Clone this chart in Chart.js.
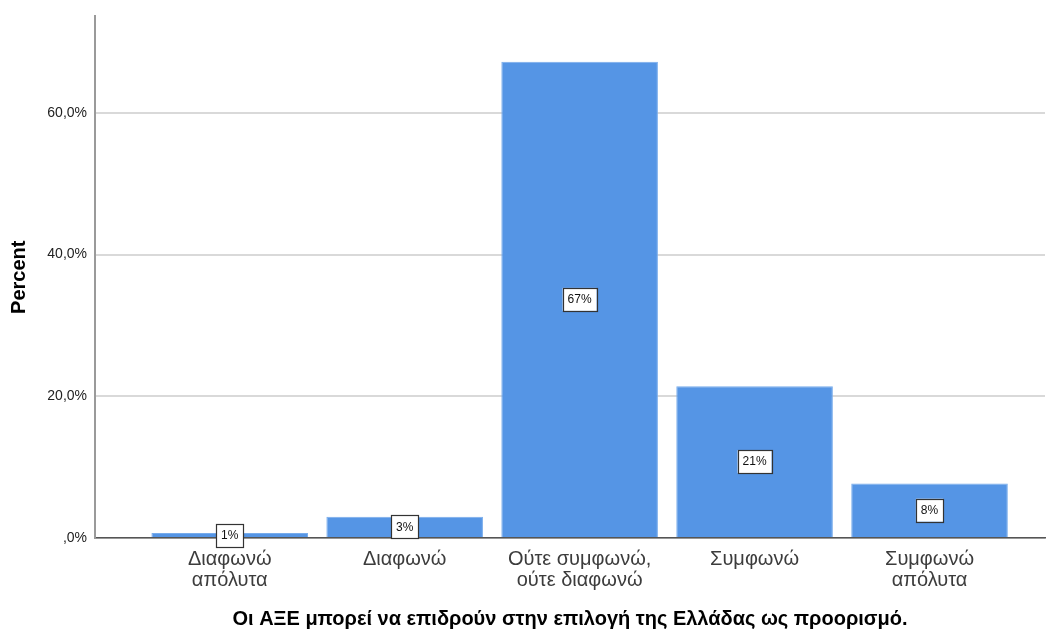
<!DOCTYPE html>
<html>
<head>
<meta charset="utf-8">
<script src="https://cdn.jsdelivr.net/npm/chart.js@4/dist/chart.umd.min.js"></script>
<style>
  body { margin: 0; background: #fff; }
</style>
</head>
<body>
<canvas id="myChart" width="1052" height="631"></canvas>
<script>
const categories = [
  ['Διαφωνώ', 'απόλυτα'],
  'Διαφωνώ',
  ['Ούτε συμφωνώ,', 'ούτε διαφωνώ'],
  'Συμφωνώ',
  ['Συμφωνώ', 'απόλυτα']
]
const percentValues = [0.7, 3.0, 67.2, 21.4, 7.7]
const yTicks = [0, 20, 40, 60]

const ctx = document.getElementById('myChart')

// white boxes with the rounded percent in the middle of each bar
const barLabels = {
  id: 'barLabels',
  afterDatasetsDraw(chart) {
    const c = chart.ctx
    const meta = chart.getDatasetMeta(0)
    c.save()
    c.font = '12px Arial, "Liberation Sans", sans-serif'
    c.textAlign = 'center'
    c.textBaseline = 'middle'
    meta.data.forEach((bar, i) => {
      const text = Math.round(percentValues[i]) + '%'
      const w = c.measureText(text).width + 10
      const h = 23
      const x = bar.x
      const y = (bar.y + bar.base) / 2
      c.fillStyle = '#ffffff'
      c.fillRect(x - w / 2, y - h / 2, w, h)
      c.strokeStyle = '#333333'
      c.lineWidth = 1.2
      c.strokeRect(Math.round(x - w / 2) + 0.5, Math.round(y - h / 2) + 0.5, Math.round(w), h)
      c.fillStyle = '#111111'
      c.fillText(text, x, y + 0.5)
    })
    c.restore()
  }
}

new Chart(ctx, {
  type: 'bar',
  data: {
    datasets: [{
      data: percentValues.map((v, i) => ({ x: i, y: v })),
      backgroundColor: '#5595e5',
      borderColor: '#78acec',
      borderWidth: 1,
      barPercentage: 0.895,
      categoryPercentage: 1
    }]
  },
  options: {
    responsive: false,
    devicePixelRatio: 1,
    animation: false,
    layout: { padding: { top: 15, right: 7, left: 0, bottom: 0 } },
    plugins: {
      legend: { display: false },
      tooltip: { enabled: false }
    },
    scales: {
      x: {
        type: 'linear',
        offset: false,
        min: -0.77,
        max: 4.66,
        afterBuildTicks: (scale) => { scale.ticks = categories.map((c, i) => ({ value: i })) },
        afterFit: (scale) => { scale.height = 93 },
        grid: { display: false, drawTicks: false },
        border: { display: true, color: '#555555', width: 1.5 },
        ticks: {
          autoSkip: false,
          maxRotation: 0,
          padding: 11,
          color: '#3c3c3c',
          font: { family: 'Arial, "Liberation Sans", sans-serif', size: 20, lineHeight: 1.05 },
          callback: (v) => categories[v]
        },
        title: {
          display: true,
          text: 'Οι ΑΞΕ μπορεί να επιδρούν στην επιλογή της Ελλάδας ως προορισμό.',
          color: '#000000',
          padding: { top: 0, bottom: 0 },
          font: { family: 'Arial, "Liberation Sans", sans-serif', size: 20, weight: 'bold' }
        }
      },
      y: {
        min: 0,
        max: 73.6,
        afterBuildTicks: (scale) => { scale.ticks = yTicks.map(v => ({ value: v })) },
        afterFit: (scale) => { scale.width = 95 },
        grid: { color: '#d9d9d9', lineWidth: 2, drawTicks: false },
        border: { display: true, color: '#9a9a9a', width: 2 },
        ticks: {
          padding: 8,
          color: '#222222',
          font: { family: 'Arial, "Liberation Sans", sans-serif', size: 14 },
          callback: (v) => v === 0 ? ',0%' : v.toFixed(1).replace('.', ',') + '%'
        },
        title: {
          display: true,
          text: 'Percent',
          color: '#000000',
          padding: { top: 7, bottom: 0 },
          font: { family: 'Arial, "Liberation Sans", sans-serif', size: 20, weight: 'bold' }
        }
      }
    }
  },
  plugins: [barLabels]
})
</script>
</body>
</html>
